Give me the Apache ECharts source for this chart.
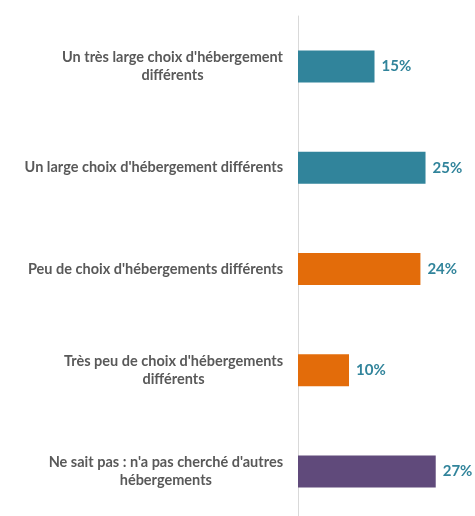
<!DOCTYPE html>
<html>
<head>
<meta charset="utf-8">
<script src="https://cdn.jsdelivr.net/npm/echarts@6/dist/echarts.min.js"></script>
<style>
  html, body { margin: 0; padding: 0; background: #fff; }
  #chart { width: 475px; height: 516px; }
</style>
</head>
<body>
<div id="chart"></div>
<script>
// libellés des réponses (de haut en bas)
const categories = [
  "Un très large choix d'hébergement\ndifférents",
  "Un large choix d'hébergement différents",
  "Peu de choix d'hébergements différents",
  "Très peu de choix d'hébergements\ndifférents",
  "Ne sait pas : n'a pas cherché d'autres\nhébergements"
]
const values = [15, 25, 24, 10, 27]
const barColors = ['#31849B', '#31849B', '#E36C0A', '#E36C0A', '#604A7B']

const chart = echarts.init(document.getElementById('chart'))

const option = {
  animation: false,
  grid: { left: 298, right: 0, top: 16, height: 506, outerBoundsMode: 'none' },
  xAxis: {
    type: 'value',
    min: 0,
    max: 34.7,
    show: false
  },
  yAxis: {
    type: 'category',
    inverse: true,
    data: categories,
    axisLine: { show: true, lineStyle: { color: '#d9d9d9', width: 1 } },
    axisTick: { show: false },
    axisLabel: {
      margin: 15,
      align: 'right',
      formatter: v => v.split('\n').map(l => '{a|' + l + '}').join('\n'),
      rich: {
        a: {
          align: 'center',
          fontFamily: 'Lato',
          fontWeight: 'bold',
          fontSize: 14.5,
          lineHeight: 18,
          color: '#595959'
        }
      }
    }
  },
  series: [{
    type: 'bar',
    barWidth: 32,
    data: values.map((v, i) => ({ value: v, itemStyle: { color: barColors[i] } })),
    label: {
      show: true,
      position: 'right',
      distance: 7,
      formatter: p => p.value + '%',
      fontFamily: 'Lato',
      fontWeight: 'bold',
      fontSize: 15,
      color: '#31849B'
    }
  }]
}

chart.setOption(option)
</script>
</body>
</html>
